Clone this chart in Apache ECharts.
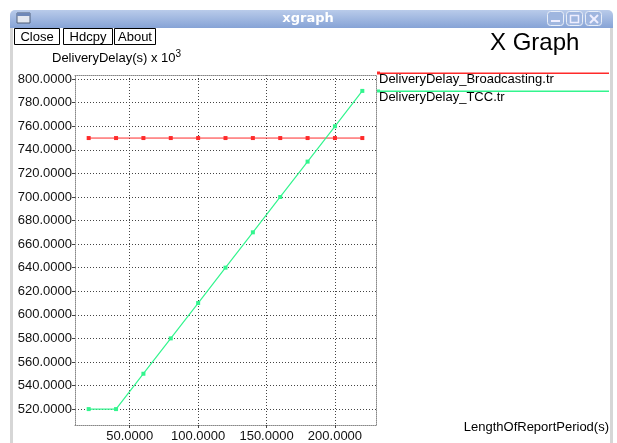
<!DOCTYPE html>
<html>
<head>
<meta charset="utf-8">
<script src="https://cdn.jsdelivr.net/npm/echarts@6/dist/echarts.min.js"></script>
<style>html,body{margin:0;padding:0;background:#fff}#c{width:617px;height:443px}</style>
</head>
<body>
<div id="c"></div>
<script>
const xValues = [20, 40, 60, 80, 100, 120, 140, 160, 180, 200, 220];
const broadcasting = [750, 750, 750, 750, 750, 750, 750, 750, 750, 750, 750];
const tcc = [520, 520, 550, 580, 610, 640, 670, 700, 730, 760, 790];
const xTicks = [50, 100, 150, 200];
const yTicks = [520, 540, 560, 580, 600, 620, 640, 660, 680, 700, 720, 740, 760, 780, 800];
const seriesNames = ['DeliveryDelay_Broadcasting.tr', 'DeliveryDelay_TCC.tr'];
const seriesColors = ['#ff2a2a', '#33f58e'];
const buttons = ['Close', 'Hdcpy', 'About'];

const FONT = 'Liberation Sans, Arial, sans-serif';
const chart = echarts.init(document.getElementById('c'), null, {renderer: 'canvas'});

const gridLine = {show: true, lineStyle: {color: '#444', type: [1, 2], width: 1}};
const frameLine = {show: true, lineStyle: {color: '#888', type: [1, 1], width: 1}};

const buttonGraphics = [];
const btnX = [14, 63, 114];
const btnW = [45, 49, 41];
buttons.forEach((b, i) => {
  buttonGraphics.push({
    type: 'rect', shape: {x: btnX[i] + 0.5, y: 28.5, width: btnW[i], height: 16},
    style: {fill: '#fff', stroke: '#000', lineWidth: 1}
  });
  buttonGraphics.push({
    type: 'text', x: btnX[i] + btnW[i] / 2 + 0.5, y: 37,
    style: {text: b, font: '13px ' + FONT, fill: '#000', align: 'center', verticalAlign: 'middle'}
  });
});

const legendGraphics = [];
seriesNames.forEach((n, i) => {
  const y = 72.5 + i * 18;
  legendGraphics.push({type: 'rect', z: 100, shape: {x: 377, y: y, width: 232, height: 1.6}, style: {fill: seriesColors[i], stroke: null}});
  legendGraphics.push({type: 'rect', z: 100, shape: {x: 377, y: y - 1, width: 3, height: 3}, style: {fill: seriesColors[i]}});
  legendGraphics.push({type: 'text', z: 100, x: 379, y: y + 7, style: {text: n, font: '13px ' + FONT, fill: '#000', verticalAlign: 'middle'}});
});

const winCtl = [];
[547, 566, 585].forEach((x, i) => {
  winCtl.push({type: 'rect', shape: {x: x + 0.5, y: 11.5, width: 16, height: 14, r: 3},
    style: {fill: '#9fb6df', stroke: '#e8eef8', lineWidth: 1}});
});
winCtl.push({type: 'rect', shape: {x: 551, y: 20, width: 9, height: 2}, style: {fill: '#eef'}});
winCtl.push({type: 'rect', shape: {x: 570.5, y: 15.5, width: 8, height: 7}, style: {fill: 'none', stroke: '#eef', lineWidth: 1.5}});
winCtl.push({type: 'line', shape: {x1: 590, y1: 15, x2: 598, y2: 23}, style: {stroke: '#eef', lineWidth: 2}});
winCtl.push({type: 'line', shape: {x1: 598, y1: 15, x2: 590, y2: 23}, style: {stroke: '#eef', lineWidth: 2}});

chart.setOption({
  animation: false,
  backgroundColor: '#fff',
  grid: {left: 75, top: 75, width: 301, height: 351, containLabel: false},
  xAxis: [{
    type: 'value', min: 10, max: 230, position: 'bottom',
    axisLine: frameLine,
    axisTick: {show: true, customValues: xTicks, length: 3, lineStyle: {color: '#444'}},
    axisLabel: {customValues: xTicks, formatter: v => v.toFixed(4), color: '#111', fontFamily: FONT, fontSize: 13, margin: 5},
    splitLine: gridLine
  }, {
    type: 'value', min: 10, max: 230, position: 'top',
    axisLine: frameLine, axisTick: {show: false}, axisLabel: {show: false}, splitLine: {show: false}
  }],
  yAxis: [{
    type: 'value', min: 506.5, max: 803.5, position: 'left',
    axisLine: frameLine,
    axisTick: {show: true, customValues: yTicks, length: 3, lineStyle: {color: '#444'}},
    axisLabel: {customValues: yTicks, formatter: v => v.toFixed(4), color: '#111', fontFamily: FONT, fontSize: 13, margin: 3},
    splitLine: gridLine
  }, {
    type: 'value', min: 506.5, max: 803.5, position: 'right',
    axisLine: frameLine, axisTick: {show: false}, axisLabel: {show: false}, splitLine: {show: false}
  }],
  series: [{
    name: seriesNames[0], type: 'line',
    data: xValues.map((x, i) => [x, broadcasting[i]]),
    symbol: 'rect', symbolSize: 4, showSymbol: true,
    lineStyle: {color: seriesColors[0], width: 1},
    itemStyle: {color: seriesColors[0]}
  }, {
    name: seriesNames[1], type: 'line',
    data: xValues.map((x, i) => [x, tcc[i]]),
    symbol: 'rect', symbolSize: 4, showSymbol: true,
    lineStyle: {color: seriesColors[1], width: 1.2},
    itemStyle: {color: seriesColors[1]}
  }],
  graphic: [
    {type: 'rect', shape: {x: 10, y: 10, width: 603, height: 18, r: [5, 5, 0, 0]},
      style: {fill: new echarts.graphic.LinearGradient(0, 0, 0, 1, [{offset: 0, color: '#b9cbea'}, {offset: 1, color: '#86a3d6'}])}},
    {type: 'rect', shape: {x: 17, y: 13, width: 13, height: 10}, style: {fill: '#e4e8f0', stroke: '#50607a', lineWidth: 1}},
    {type: 'rect', shape: {x: 17, y: 13, width: 13, height: 3}, style: {fill: '#6f88b8'}},
    {type: 'text', x: 308, y: 19, style: {text: 'xgraph', font: 'bold 13px DejaVu Sans, sans-serif', fill: '#fff', align: 'center', verticalAlign: 'middle'}},
    {type: 'rect', shape: {x: 10, y: 28, width: 3, height: 415}, style: {fill: '#d6d6d6'}},
    {type: 'rect', shape: {x: 610, y: 28, width: 3, height: 415}, style: {fill: '#d6d6d6'}},
    ...winCtl,
    ...buttonGraphics,
    {type: 'text', x: 490, y: 43, style: {text: 'X Graph', font: '24px ' + FONT, fill: '#000', verticalAlign: 'middle'}},
    {type: 'text', x: 52, y: 57, style: {
      text: '{a|DeliveryDelay(s) x 10}{b|3}',
      rich: {a: {fontSize: 13, fontFamily: FONT, fill: '#000', lineHeight: 16, verticalAlign: 'bottom'},
             b: {fontSize: 10, fontFamily: FONT, fill: '#000', verticalAlign: 'top'}},
      verticalAlign: 'middle'}},
    {type: 'text', x: 609, y: 427, style: {text: 'LengthOfReportPeriod(s)', font: '13px ' + FONT, fill: '#000', align: 'right', verticalAlign: 'middle'}},
    ...legendGraphics
  ]
});
</script>
</body>
</html>
